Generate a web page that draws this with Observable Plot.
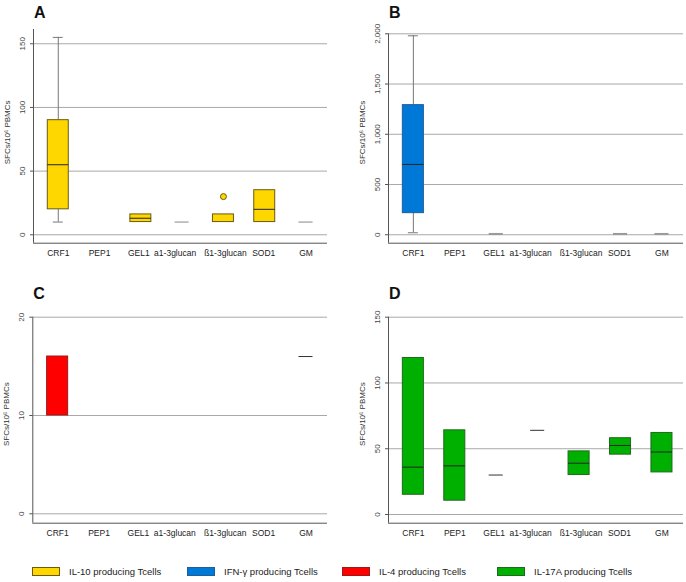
<!DOCTYPE html>
<html>
<head>
<meta charset="utf-8">
<script src="https://cdn.jsdelivr.net/npm/d3@7"></script>
<script src="https://cdn.jsdelivr.net/npm/@observablehq/plot@0.6"></script>
<style>
  html, body { margin: 0; padding: 0; background: #fff; }
  #root { position: relative; width: 686px; height: 582px; font-family: "Liberation Sans", Arial, sans-serif; }
  .panel { position: absolute; }
  .legend-item { position: absolute; top: 566px; display: flex; align-items: center; font-size: 9.5px; color: #222; white-space: nowrap; }
  .legend-item .sw { width: 28px; height: 9px; box-sizing: border-box; margin-right: 9px; }
</style>
</head>
<body>
<div id="root"></div>
<script>
// ---------- data ----------
const categories = ["CRF1", "PEP1", "GEL1", "a1-3glucan", "ß1-3glucan", "SOD1", "GM"];
const yLabel = "SFCs/10\u2076 PBMCs";

// box rows: [category, whiskerLow, q1, median, q3, whiskerHigh]
const boxesA = [
  ["CRF1", 10, 20, 55, 90, 155],
  ["GEL1", null, 10, 13, 16, null],
  ["ß1-3glucan", null, 10, null, 16, null],
  ["SOD1", null, 10, 20, 35, null]
];
const singlesA = [["a1-3glucan", 10], ["GM", 10]];
const outliersA = [["ß1-3glucan", 30]];
const ticksA = [0, 50, 100, 150];

const boxesB = [["CRF1", 20, 215, 700, 1290, 1980]];
const singlesB = [["GEL1", 8], ["SOD1", 8], ["GM", 8]];
const ticksB = [0, 500, 1000, 1500, 2000];

const boxesC = [["CRF1", null, 10, null, 16, null]];
const singlesC = [["GM", 16]];
const ticksC = [0, 10, 20];

const boxesD = [
  ["CRF1", null, 15, 36, 119, null],
  ["PEP1", null, 10.5, 37, 64, null],
  ["ß1-3glucan", null, 30, 39, 48, null],
  ["SOD1", null, 45.5, 52.5, 58, null],
  ["GM", null, 32, 47.5, 62, null]
];
const singlesD = [["GEL1", 30], ["a1-3glucan", 64]];
const ticksD = [0, 50, 100, 150];

const seriesNames = ["IL-10 producing Tcells", "IFN-\u03b3 producing Tcells", "IL-4 producing Tcells", "IL-17A producing Tcells"];
const seriesFill = ["#FFD700", "#0078D7", "#FF0000", "#00B000"];
const seriesStroke = ["#6b5a10", "#1f5e96", "#9a1a1a", "#1f6a1f"];

// ---------- drawing ----------
const idx = c => categories.indexOf(c);
const X0 = -0.6, X1 = 6.52;
const STEP_PX = 41.3;
const labelShiftPx = [0, 0, -2, -7, 2, -1, 0]; // label nudges as in the source figure

function panel({letter, boxes, singles, outliers = [], ticks, yDomain, fmt, fill, stroke, singleStroke, singleWidth,
                height, marginTop, marginLeft, marginRight, titleDy, letterDy}) {
  const yMin = yDomain[0], yTop = yDomain[1];
  const bx = boxes.map(([c, lo, q1, med, q3, hi]) => ({i: idx(c), lo, q1, med, q3, hi}));
  const sg = singles.map(([c, v]) => ({i: idx(c), v}));
  const ol = outliers.map(([c, v]) => ({i: idx(c), v}));
  const cl = categories.map((c, i) => ({i, c, x: i + labelShiftPx[i] / STEP_PX}));
  const hw = 0.254, sw = 0.17, cw = 0.12;
  return Plot.plot({
    width: 343,
    height,
    marginTop,
    marginBottom: 19.3,
    marginLeft,
    marginRight,
    x: {domain: [X0, X1], axis: null},
    y: {domain: yDomain},
    style: {fontFamily: "'Liberation Sans', Arial, sans-serif", background: "transparent", overflow: "visible"},
    marks: [
      Plot.ruleY(ticks, {stroke: "#a8a8a8", strokeWidth: 1}),
      Plot.ruleY([yMin], {stroke: "#555", strokeWidth: 1}),
      Plot.ruleX([X0], {y1: yMin, y2: yTop, stroke: "#555", strokeWidth: 1}),
      Plot.axisY({ticks, tickSize: 3, tickFormat: () => "", label: null, stroke: "#555"}),
      Plot.text(ticks, {y: d => d, text: d => fmt(d), frameAnchor: "left", textAnchor: "middle", lineAnchor: "middle", dx: -11, rotate: -90, fontSize: 8, fill: "#444"}),
      Plot.text([yLabel], {frameAnchor: "left", textAnchor: "middle", lineAnchor: "middle", dx: -26, dy: titleDy, rotate: -90, fontSize: 8, fill: "#333"}),
      Plot.text([letter], {frameAnchor: "top-left", dx: 0.5, dy: letterDy, textAnchor: "start", lineAnchor: "middle", fontSize: 16, fontWeight: "bold", fill: "#111"}),
      // whiskers
      Plot.ruleX(bx.filter(d => d.lo != null), {x: "i", y1: "lo", y2: "q1", stroke: "#777"}),
      Plot.ruleX(bx.filter(d => d.hi != null), {x: "i", y1: "q3", y2: "hi", stroke: "#777"}),
      Plot.ruleY(bx.filter(d => d.lo != null), {x1: d => d.i - cw, x2: d => d.i + cw, y: "lo", stroke: "#777"}),
      Plot.ruleY(bx.filter(d => d.hi != null), {x1: d => d.i - cw, x2: d => d.i + cw, y: "hi", stroke: "#777"}),
      // boxes
      Plot.rect(bx, {x1: d => d.i - hw, x2: d => d.i + hw, y1: "q1", y2: "q3", fill, stroke, strokeWidth: 1}),
      Plot.ruleY(bx.filter(d => d.med != null), {x1: d => d.i - hw, x2: d => d.i + hw, y: "med", stroke: "#222", strokeWidth: 1}),
      // single-value lines
      Plot.ruleY(sg, {x1: d => d.i - sw, x2: d => d.i + sw, y: "v", stroke: singleStroke, strokeWidth: singleWidth}),
      // outliers
      Plot.dot(ol, {x: "i", y: "v", r: 3, fill, stroke, strokeWidth: 1}),
      // category labels
      Plot.text(cl, {x: "x", y: yMin, text: "c", dy: 10.5, lineAnchor: "middle", textAnchor: "middle", fontSize: 8.5, fill: "#222"})
    ]
  });
}

const root = document.getElementById("root");
function place(el, left, top) {
  el.classList.add("panel");
  el.style.left = left + "px";
  el.style.top = top + "px";
  root.appendChild(el);
}

const fmtPlain = d => String(d);
const fmtComma = d3.format(",");

place(panel({letter: "A", boxes: boxesA, singles: singlesA, outliers: outliersA, ticks: ticksA,
  yDomain: [-6.6, 161.2], fmt: fmtPlain, fill: seriesFill[0], stroke: seriesStroke[0],
  singleStroke: "#888", singleWidth: 1, height: 262, marginTop: 29, marginLeft: 33, marginRight: 16,
  titleDy: -4, letterDy: -17}), 0, 0);

place(panel({letter: "B", boxes: boxesB, singles: singlesB, ticks: ticksB,
  yDomain: [-84, 2000], fmt: fmtComma, fill: seriesFill[1], stroke: seriesStroke[1],
  singleStroke: "#9a9a9a", singleWidth: 2, height: 262, marginTop: 33.3, marginLeft: 45, marginRight: 3,
  titleDy: -6, letterDy: -21.3}), 343, 0);

place(panel({letter: "C", boxes: boxesC, singles: singlesC, ticks: ticksC,
  yDomain: [-0.956, 20], fmt: fmtPlain, fill: seriesFill[2], stroke: seriesStroke[2],
  singleStroke: "#333", singleWidth: 1, height: 272, marginTop: 46.7, marginLeft: 32.3, marginRight: 16,
  titleDy: -6, letterDy: -23.7}), 0, 270);

place(panel({letter: "D", boxes: boxesD, singles: singlesD, ticks: ticksD,
  yDomain: [-6.61, 150], fmt: fmtPlain, fill: seriesFill[3], stroke: seriesStroke[3],
  singleStroke: "#333", singleWidth: 1, height: 272, marginTop: 46.7, marginLeft: 45, marginRight: 3,
  titleDy: -6, letterDy: -23.7}), 343, 270);

// legend
seriesNames.forEach((name, k) => {
  const item = document.createElement("div");
  item.className = "legend-item";
  item.style.left = (32 + k * 155) + "px";
  const sw = document.createElement("span");
  sw.className = "sw";
  sw.style.background = seriesFill[k];
  sw.style.border = "1px solid " + seriesStroke[k];
  const tx = document.createElement("span");
  tx.textContent = name;
  item.appendChild(sw);
  item.appendChild(tx);
  root.appendChild(item);
});
</script>
</body>
</html>
